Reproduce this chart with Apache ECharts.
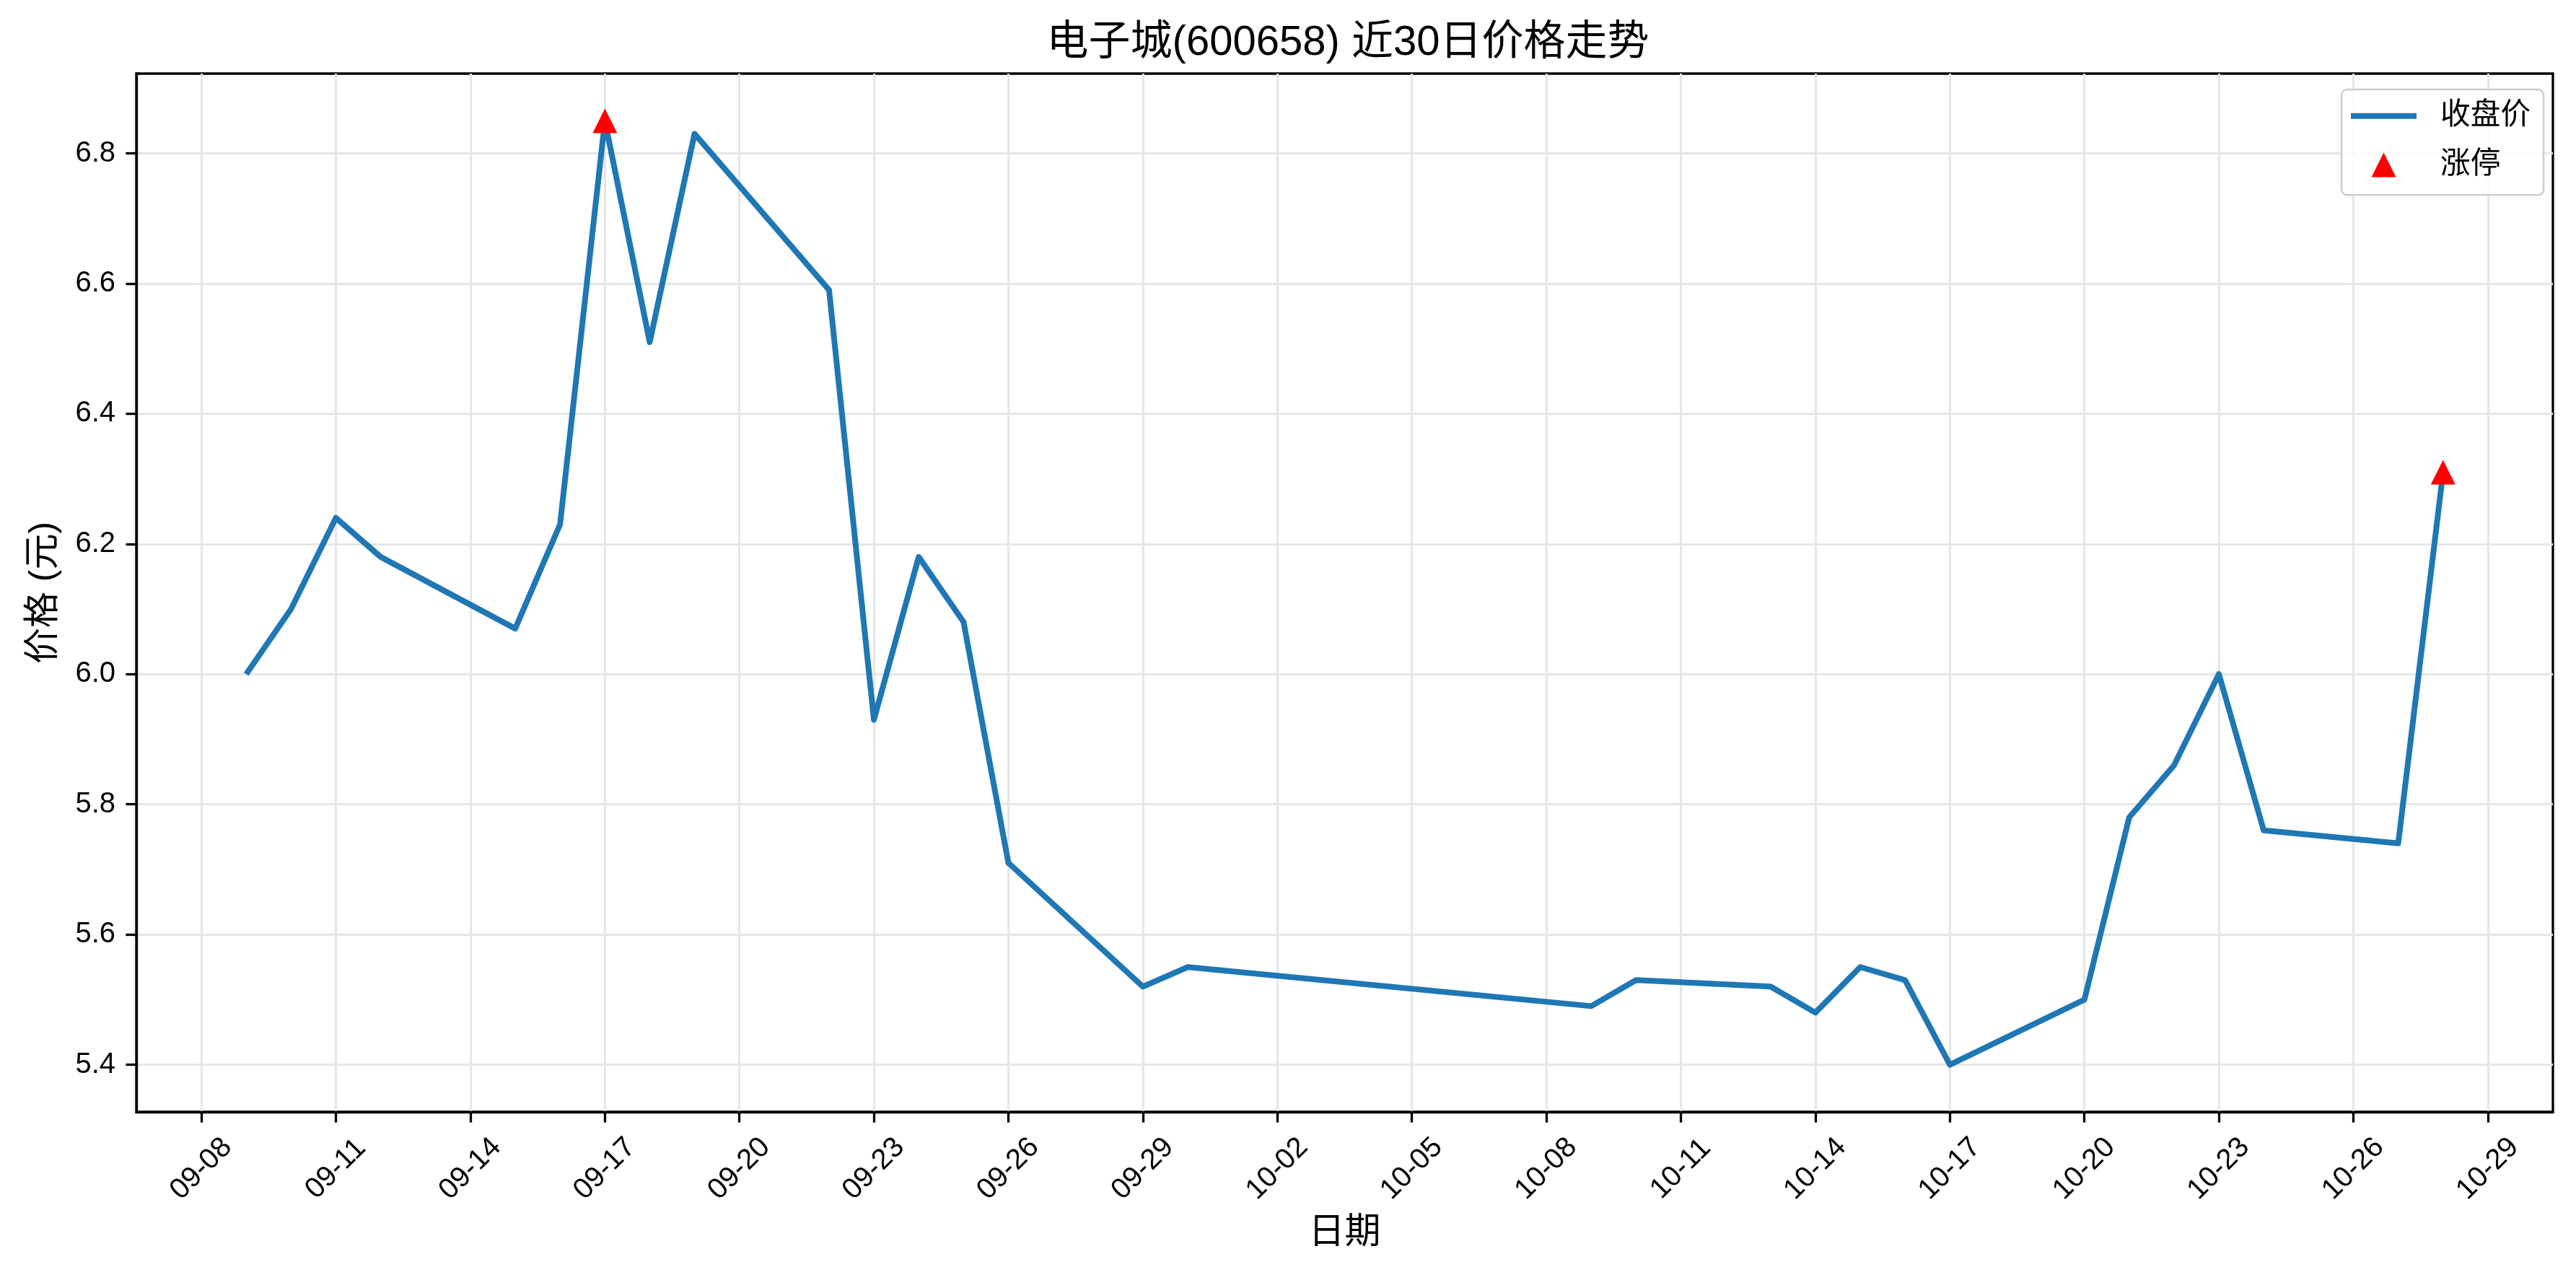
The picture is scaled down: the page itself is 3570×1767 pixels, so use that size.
<!DOCTYPE html>
<html><head><meta charset="utf-8">
<script src="https://cdn.jsdelivr.net/npm/echarts@6/dist/echarts.min.js"></script>
<style>html,body{margin:0;padding:0;background:#fff}#c{width:3570px;height:1767px}</style>
</head><body><div id="c"></div>
<script>
const YEAR = 2025;
const titleText = '电子城(600658) 近30日价格走势';
const dates = ['09-09','09-10','09-11','09-12','09-15','09-16','09-17','09-18','09-19','09-22','09-23','09-24','09-25','09-26','09-29','09-30','10-09','10-10','10-13','10-14','10-15','10-16','10-17','10-20','10-21','10-22','10-23','10-24','10-27','10-28'];
const closePrices = [6.00,6.10,6.24,6.18,6.07,6.23,6.85,6.51,6.83,6.59,5.93,6.18,6.08,5.71,5.52,5.55,5.49,5.53,5.52,5.48,5.55,5.53,5.40,5.50,5.78,5.86,6.00,5.76,5.74,6.31];
const limitUpDates = ['09-17','10-28'];
const limitUpPrices = [6.85, 6.31];
const xTickLabels = ['09-08','09-11','09-14','09-17','09-20','09-23','09-26','09-29','10-02','10-05','10-08','10-11','10-14','10-17','10-20','10-23','10-26','10-29'];
const yTickLabels = ['5.4','5.6','5.8','6.0','6.2','6.4','6.6','6.8'];

const FONT = '"Liberation Sans", "Noto Sans CJK SC", sans-serif';
function toTs(md){ const [m,d] = md.split('-').map(Number); return Date.UTC(YEAR, m-1, d); }
function fmt(v){ const dt = new Date(v); const m = dt.getUTCMonth()+1, d = dt.getUTCDate(); return (m<10?'0':'')+m+'-'+(d<10?'0':'')+d; }

const xs = dates.map(toTs);
const xSpan = xs[xs.length-1]-xs[0];
const xMin = xs[0]-0.05*xSpan, xMax = xs[xs.length-1]+0.05*xSpan;
const allY = closePrices.concat(limitUpPrices);
const yLo = Math.min(...allY), yHi = Math.max(...allY);
const yMin = yLo-0.05*(yHi-yLo), yMax = yHi+0.05*(yHi-yLo);
const xTicks = xTickLabels.map(toTs);
const yTicks = yTickLabels.map(Number);

const chart = echarts.init(document.getElementById('c'), null, {renderer:'canvas'});
chart.setOption({
  animation: false,
  backgroundColor: '#fff',
  textStyle: {fontFamily: FONT},
  title: {
    text: titleText, left: 1863, top: 26, textAlign: 'center',
    textStyle: {fontFamily: FONT, fontSize: 58, fontWeight: 'normal', color: '#000'}
  },
  grid: {left: 189, right: 32, top: 102, bottom: 226, show: true, borderColor: '#000', borderWidth: 3.3, backgroundColor: 'transparent'},
  legend: {
    data: [
      {name: '收盘价', icon: 'path://M0,0L91,0L91,8L0,8Z'},
      {name: '涨停', icon: 'path://M0,34L17,0L34,34Z'}
    ],
    symbolKeepAspect: true,
    orient: 'vertical', left: 3245, top: 124,
    padding: [16, 18, 21, 13], itemWidth: 91, itemHeight: 34, itemGap: 26,
    textStyle: {fontFamily: FONT, fontSize: 41.7, color: '#000', padding: [0,0,0,28]},
    borderColor: '#cccccc', borderWidth: 2.5, borderRadius: 8, backgroundColor: 'rgba(255,255,255,0.8)'
  },
  xAxis: {
    type: 'value', min: xMin, max: xMax,
    name: '日期', nameLocation: 'middle', nameGap: 143,
    nameTextStyle: {fontFamily: FONT, fontSize: 50, color: '#000'},
    axisLine: {show: true, lineStyle: {color: '#000', width: 3.3}},
    axisTick: {show: true, length: 14.6, lineStyle: {color: '#000', width: 3.3}, customValues: xTicks},
    axisLabel: {customValues: xTicks, formatter: fmt, rotate: 45, align: 'center', verticalAlign: 'middle', margin: 79, fontFamily: FONT, fontSize: 40, color: '#000'},
    splitLine: {show: true, lineStyle: {color: '#e6e6e6', width: 3}}
  },
  yAxis: {
    type: 'value', min: yMin, max: yMax,
    name: '价格 (元)', nameLocation: 'middle', nameGap: 103,
    nameTextStyle: {fontFamily: FONT, fontSize: 50, color: '#000'},
    axisLine: {show: true, lineStyle: {color: '#000', width: 3.3}},
    axisTick: {show: true, length: 14.6, lineStyle: {color: '#000', width: 3.3}, customValues: yTicks},
    axisLabel: {customValues: yTicks, formatter: v => Number(v).toFixed(1), margin: 29, fontFamily: FONT, fontSize: 40, color: '#000'},
    splitLine: {show: true, lineStyle: {color: '#e6e6e6', width: 3}}
  },
  series: [
    {
      name: '收盘价', type: 'line', symbol: 'none', showSymbol: false, z: 3,
      data: dates.map((d,i)=>[toTs(d), closePrices[i]]),
      lineStyle: {color: '#1f77b4', width: 8, join: 'round'},
      itemStyle: {color: '#1f77b4'}
    },
    {
      name: '涨停', type: 'scatter', symbol: 'triangle', symbolSize: 34, symbolKeepAspect: true, z: 4,
      data: limitUpDates.map((d,i)=>[toTs(d), limitUpPrices[i]]),
      itemStyle: {color: '#ff0000', opacity: 1}
    }
  ]
});
</script></body></html>
